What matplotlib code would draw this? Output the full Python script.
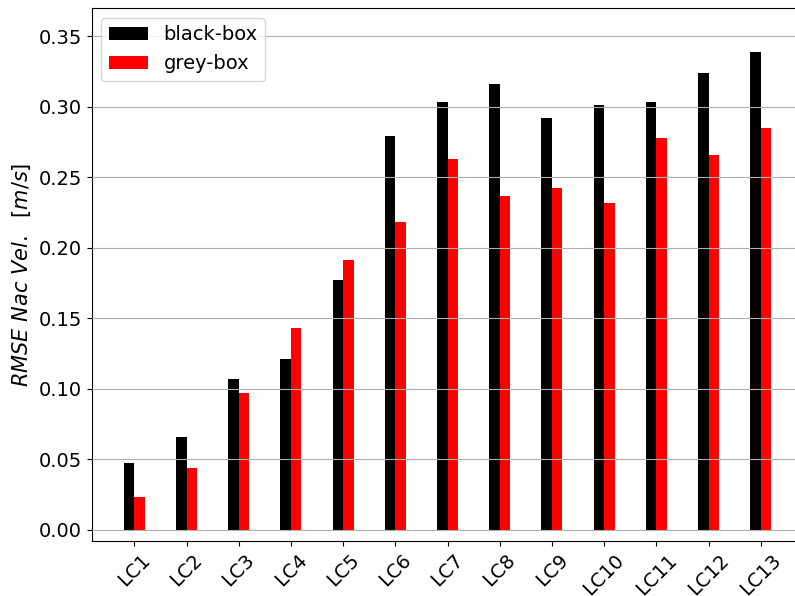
import numpy as np
import matplotlib
matplotlib.use('Agg')
import matplotlib.pyplot as plt

labels = ['LC1', 'LC2', 'LC3', 'LC4', 'LC5', 'LC6', 'LC7',
          'LC8', 'LC9', 'LC10', 'LC11', 'LC12', 'LC13']
rmse_black = [0.047, 0.066, 0.107, 0.121, 0.177, 0.279, 0.303,
              0.316, 0.292, 0.301, 0.303, 0.324, 0.339]
rmse_grey = [0.023, 0.044, 0.097, 0.143, 0.191, 0.218, 0.263,
             0.237, 0.242, 0.232, 0.278, 0.266, 0.285]

w = 0.2
x = np.arange(len(labels))

fig = plt.figure(figsize=(7.95, 5.96), dpi=100)
# axes run past the right edge of the canvas
ax = fig.add_axes([0.1151, 0.0923, 0.8956, 0.8943])
ax.bar(x - w / 2, rmse_black, w, color='black', label='black-box')
ax.bar(x + w / 2, rmse_grey, w, color='red', label='grey-box')

ax.set_xticks(x)
ax.set_xticklabels(labels, rotation=45)
ax.set_xlim(-0.82, 12.82)
ax.set_ylim(-0.008, 0.370)
ax.set_yticks(np.arange(0, 0.351, 0.05))
ax.tick_params(labelsize=14)
ax.yaxis.grid(True, color='#b0b0b0', linewidth=0.8)
ax.set_axisbelow(False)
ax.spines['right'].set_visible(False)
ax.set_ylabel(r'$RMSE\ Nac\ Vel.\ \ [m/s]$', fontsize=15)
ax.legend(loc='upper left', fontsize=14)

fig.savefig('out.png', dpi=100)
